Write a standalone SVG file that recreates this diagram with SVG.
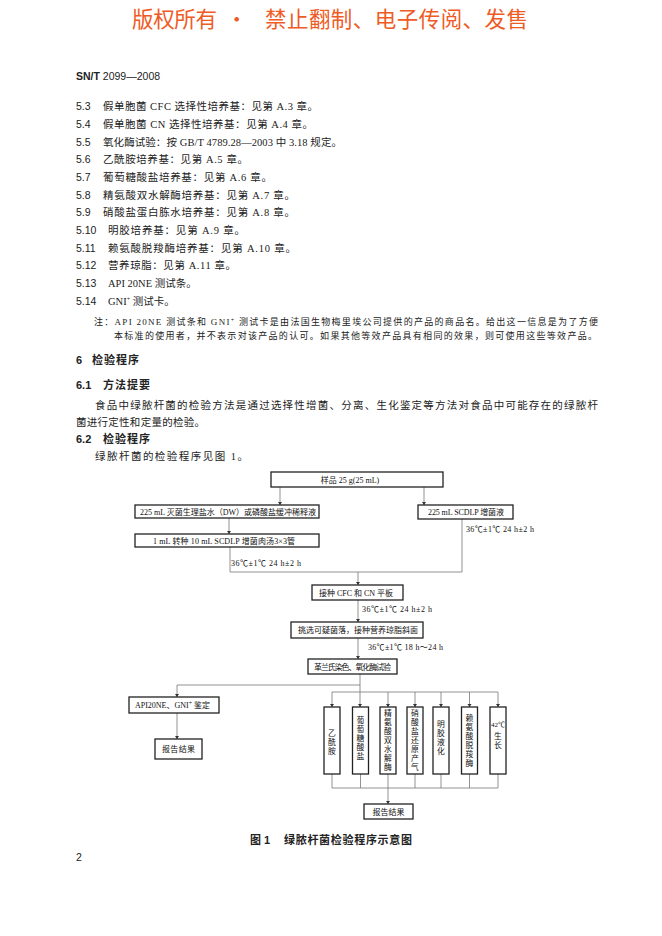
<svg xmlns="http://www.w3.org/2000/svg" width="662" height="936" viewBox="0 0 662 936">
<style>
.hd{font-family:"Noto Sans CJK SC",sans-serif;font-size:21.5px;fill:#EF5B25}
.num{font-family:"Liberation Sans","Noto Sans CJK SC",sans-serif;font-size:10.5px;fill:#222}
.tx{font-family:"Liberation Serif","Noto Sans CJK SC",serif;font-size:10.5px;fill:#222}
.note{font-family:"Liberation Serif","Noto Sans CJK SC",serif;font-size:9px;fill:#222}
.h{font-family:"Liberation Sans","Noto Sans CJK SC",sans-serif;font-size:11px;font-weight:bold;fill:#222}
.box rect{fill:#fff;stroke:#222;stroke-width:1.3}
.bt{font-family:"Liberation Serif","Noto Sans CJK SC",serif;font-size:8px;fill:#111;text-anchor:middle}
.vt{font-family:"Liberation Serif","Noto Sans CJK SC",serif;font-size:7.8px;fill:#111;text-anchor:middle}
.cond{font-family:"Liberation Serif","Noto Sans CJK SC",serif;font-size:8px;fill:#111}
.ln{stroke:#777;stroke-width:0.8;fill:none}
.ar{stroke:#777;stroke-width:0.8;fill:none;marker-end:url(#ah)}
.sup{font-size:6px}
</style>
<defs>
<marker id="ah" viewBox="0 0 6 8" refX="6" refY="4" markerWidth="3.5" markerHeight="5" orient="auto" markerUnits="userSpaceOnUse">
<path d="M0,0 L6,4 L0,8 z" fill="#333"/>
</marker>
</defs>

<!-- header watermark -->
<text class="hd" x="132" y="27" textLength="85" lengthAdjust="spacing">版权所有</text>
<text class="hd" x="226" y="27">·</text>
<text class="hd" x="265" y="27" textLength="263" lengthAdjust="spacing">禁止翻制、电子传阅、发售</text>

<text class="num" x="76" y="80"><tspan font-weight="bold">SN/T</tspan> 2099—2008</text>

<!-- list -->
<g id="list">
<text class="num" x="76" y="110">5.3</text><text class="tx" x="103" y="110" textLength="215" lengthAdjust="spacing">假单胞菌 CFC 选择性培养基：见第 A.3 章。</text>
<text class="num" x="76" y="128">5.4</text><text class="tx" x="103" y="128" textLength="210" lengthAdjust="spacing">假单胞菌 CN 选择性培养基：见第 A.4 章。</text>
<text class="num" x="76" y="145.5">5.5</text><text class="tx" x="103" y="145.5" textLength="239" lengthAdjust="spacing">氧化酶试验：按 GB/T 4789.28—2003 中 3.18 规定。</text>
<text class="num" x="76" y="163">5.6</text><text class="tx" x="103" y="163" textLength="145" lengthAdjust="spacing">乙酰胺培养基：见第 A.5 章。</text>
<text class="num" x="76" y="181">5.7</text><text class="tx" x="103" y="181" textLength="169" lengthAdjust="spacing">葡萄糖酸盐培养基：见第 A.6 章。</text>
<text class="num" x="76" y="198.5">5.8</text><text class="tx" x="103" y="198.5" textLength="192" lengthAdjust="spacing">精氨酸双水解酶培养基：见第 A.7 章。</text>
<text class="num" x="76" y="216">5.9</text><text class="tx" x="103" y="216" textLength="192" lengthAdjust="spacing">硝酸盐蛋白胨水培养基：见第 A.8 章。</text>
<text class="num" x="76" y="234">5.10</text><text class="tx" x="108" y="234" textLength="137" lengthAdjust="spacing">明胶培养基：见第 A.9 章。</text>
<text class="num" x="76" y="251.5">5.11</text><text class="tx" x="108" y="251.5" textLength="188" lengthAdjust="spacing">赖氨酸脱羧酶培养基：见第 A.10 章。</text>
<text class="num" x="76" y="269">5.12</text><text class="tx" x="108" y="269" textLength="128" lengthAdjust="spacing">营养琼脂：见第 A.11 章。</text>
<text class="num" x="76" y="287">5.13</text><text class="tx" x="108" y="287">API 20NE 测试条。</text>
<text class="num" x="76" y="304.5">5.14</text><text class="tx" x="108" y="304.5">GNI<tspan class="sup" dy="-4">+</tspan><tspan dy="4"> 测试卡。</tspan></text>
</g>

<!-- note -->
<text class="note" x="94" y="325" textLength="504" lengthAdjust="spacing">注：API 20NE 测试条和 GNI<tspan class="sup" dy="-3">+</tspan><tspan dy="3"> 测试卡是由法国生物梅里埃公司提供的产品的商品名。给出这一信息是为了方便</tspan></text>
<text class="note" x="114" y="339" textLength="483" lengthAdjust="spacing">本标准的使用者，并不表示对该产品的认可。如果其他等效产品具有相同的效果，则可使用这些等效产品。</text>

<!-- section 6 -->
<text class="h" x="76" y="364">6</text><text class="h" x="92" y="364" letter-spacing="1">检验程序</text>
<text class="h" x="76" y="389">6.1</text><text class="h" x="103" y="389" letter-spacing="1">方法提要</text>
<text class="tx" x="95" y="409" textLength="503" lengthAdjust="spacing">食品中绿脓杆菌的检验方法是通过选择性增菌、分离、生化鉴定等方法对食品中可能存在的绿脓杆</text>
<text class="tx" x="76" y="426" textLength="129" lengthAdjust="spacing">菌进行定性和定量的检验。</text>
<text class="h" x="76" y="443">6.2</text><text class="h" x="103" y="443" letter-spacing="1">检验程序</text>
<text class="tx" x="95" y="460" textLength="153" lengthAdjust="spacing">绿脓杆菌的检验程序见图 1。</text>

<!-- connectors -->
<g id="connectors">
<path class="ar" d="M280,487 V505"/>
<path class="ar" d="M424,487 V505"/>
<path class="ar" d="M229,518 V534"/>
<path class="ln" d="M230,547 V572 H462 V519"/>
<path class="ar" d="M358,572 V585"/>
<path class="ar" d="M358,600 V622"/>
<path class="ar" d="M358,638 V659"/>
<path class="ar" d="M360,674 V707"/>
<path class="ln" d="M360,685 H177"/>
<path class="ar" d="M177,685 V697"/>
<path class="ar" d="M177,713 V739"/>
<path class="ln" d="M332,692 H498"/>
<path class="ar" d="M332,692 V707"/>
<path class="ar" d="M388,692 V707"/>
<path class="ar" d="M415,692 V707"/>
<path class="ar" d="M441,692 V707"/>
<path class="ar" d="M469.5,692 V707"/>
<path class="ar" d="M498,692 V707"/>
<path class="ln" d="M332,774 V788 M360.5,774 V788 M388,774 V788 M415,774 V788 M441,774 V788 M469.5,774 V788 M498,774 V788 M332,788 H498"/>
<path class="ar" d="M388,788 V804"/>
</g>

<!-- condition labels -->
<text class="cond" x="231" y="566" textLength="70" lengthAdjust="spacing">36℃±1℃  24 h±2 h</text>
<text class="cond" x="466" y="532" textLength="68" lengthAdjust="spacing">36℃±1℃  24 h±2 h</text>
<text class="cond" x="362" y="612" textLength="70" lengthAdjust="spacing">36℃±1℃  24 h±2 h</text>
<text class="cond" x="368" y="650" textLength="75" lengthAdjust="spacing">36℃±1℃  18 h～24 h</text>

<!-- nodes -->
<g id="sample" class="box"><rect x="271" y="472" width="172" height="15"/><text class="bt" x="350" y="483">样品 25 g(25 mL)</text></g>
<g id="dilution" class="box"><rect x="135" y="505" width="184" height="13"/><text class="bt" x="228" y="515" textLength="176" lengthAdjust="spacing">225 mL 灭菌生理盐水（DW）或磷酸盐缓冲稀释液</text></g>
<g id="transfer" class="box"><rect x="135" y="534" width="184" height="13"/><text class="bt" x="224" y="544" textLength="142" lengthAdjust="spacing">1 mL 转种 10 mL SCDLP 增菌肉汤3×3管</text></g>
<g id="scdlp" class="box"><rect x="418" y="505" width="95" height="14"/><text class="bt" x="466" y="515" textLength="76" lengthAdjust="spacing">225 mL SCDLP 增菌液</text></g>
<g id="plate" class="box"><rect x="312" y="585" width="91" height="15"/><text class="bt" x="356" y="595.5" textLength="74" lengthAdjust="spacing">接种 CFC 和 CN 平板</text></g>
<g id="pick" class="box"><rect x="291" y="622" width="132" height="16"/><text class="bt" x="358" y="633" textLength="120" lengthAdjust="spacing">挑选可疑菌落，接种营养琼脂斜面</text></g>
<g id="gram" class="box"><rect x="308" y="659" width="89" height="15"/><text class="bt" x="352.5" y="669.5" textLength="77" lengthAdjust="spacing">革兰氏染色、氧化酶试验</text></g>
<g id="api" class="box"><rect x="129" y="697" width="90" height="16"/><text class="bt" x="172.5" y="708" textLength="75" lengthAdjust="spacing">API20NE、GNI<tspan class="sup" dy="-3">+</tspan><tspan dy="3"> 鉴定</tspan></text></g>
<g id="report1" class="box"><rect x="155" y="739" width="47" height="20"/><text class="bt" x="178.5" y="752" textLength="33" lengthAdjust="spacing">报告结果</text></g>

<g id="t1" class="box"><rect x="324" y="707" width="16" height="67"/><text class="vt"><tspan x="332" y="736">乙</tspan><tspan x="332" y="745">酰</tspan><tspan x="332" y="754">胺</tspan></text></g>
<g id="t2" class="box"><rect x="352.5" y="707" width="16" height="67"/><text class="vt"><tspan x="360.5" y="723">葡</tspan><tspan x="360.5" y="732">萄</tspan><tspan x="360.5" y="741">糖</tspan><tspan x="360.5" y="750">酸</tspan><tspan x="360.5" y="759">盐</tspan></text></g>
<g id="t3" class="box"><rect x="380" y="707" width="16" height="67"/><text class="vt"><tspan x="388" y="716">精</tspan><tspan x="388" y="725">氨</tspan><tspan x="388" y="734">酸</tspan><tspan x="388" y="743">双</tspan><tspan x="388" y="752">水</tspan><tspan x="388" y="761">解</tspan><tspan x="388" y="770">酶</tspan></text></g>
<g id="t4" class="box"><rect x="407" y="707" width="16" height="67"/><text class="vt"><tspan x="415" y="716">硝</tspan><tspan x="415" y="725">酸</tspan><tspan x="415" y="734">盐</tspan><tspan x="415" y="743">还</tspan><tspan x="415" y="752">原</tspan><tspan x="415" y="761">产</tspan><tspan x="415" y="770">气</tspan></text></g>
<g id="t5" class="box"><rect x="433" y="707" width="16" height="67"/><text class="vt"><tspan x="441" y="726.5">明</tspan><tspan x="441" y="735.5">胶</tspan><tspan x="441" y="744.5">液</tspan><tspan x="441" y="753.5">化</tspan></text></g>
<g id="t6" class="box"><rect x="461.5" y="707" width="16" height="67"/><text class="vt"><tspan x="469.5" y="720.5">赖</tspan><tspan x="469.5" y="729.5">氨</tspan><tspan x="469.5" y="738.5">酸</tspan><tspan x="469.5" y="747.5">脱</tspan><tspan x="469.5" y="756.5">羧</tspan><tspan x="469.5" y="765.5">酶</tspan></text></g>
<g id="t7" class="box"><rect x="490" y="707" width="16" height="67"/><text class="vt"><tspan x="498" y="727" font-size="7">42℃</tspan><tspan x="498" y="739">生</tspan><tspan x="498" y="748">长</tspan></text></g>

<g id="report2" class="box"><rect x="364" y="804" width="49" height="15"/><text class="bt" x="388.5" y="815" textLength="32" lengthAdjust="spacing">报告结果</text></g>

<!-- caption -->
<text class="h" x="250" y="844" font-size="10.5">图 1</text>
<text class="h" x="284" y="844" font-size="10.5" textLength="128" lengthAdjust="spacing">绿脓杆菌检验程序示意图</text>
<text class="num" x="76" y="861" font-size="9" fill="#555">2</text>
</svg>
